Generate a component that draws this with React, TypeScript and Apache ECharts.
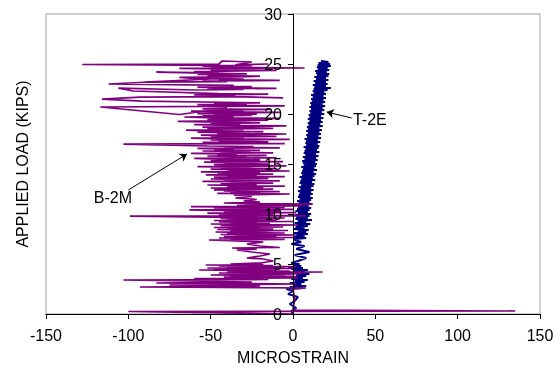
import React, { useEffect, useRef } from "react";
import * as echarts from "echarts";

// Strain gauge T-2E: [microstrain, applied load (kips)]
const t2eData: [number, number][] = [
  [0, 0], [-1, 0.3], [2, 0.6], [-2, 1.0], [1, 1.3], [3, 1.7], [-3, 2.0], [0, 2.3], [-4, 2.5],
  [6, 2.6], [-2, 2.7], [8, 2.8], [0, 2.9], [5, 3.0], [-2, 3.1], [7, 3.2], [1, 3.3], [9, 3.4],
  [-1, 3.5], [6, 3.6], [-3, 3.7], [8, 3.8], [2, 3.9], [10, 4.0], [-2, 4.1], [7, 4.2], [0, 4.3],
  [9, 4.4], [-1, 4.5], [6, 4.6], [-3, 4.7], [5, 4.8], [0, 4.9], [4, 5.0], [-1, 5.1],
  [3, 5.3], [8, 5.6], [1, 5.9], [10, 6.2], [2, 6.5], [7, 6.8], [-1, 7.0], [5, 7.2], [1, 7.4],
  [1, 7.5], [8, 7.6], [0, 7.7], [7, 7.8], [2, 7.9], [9, 8.0], [0.5, 8.1], [8, 8.2], [3, 8.3],
  [9.5, 8.4], [0, 8.5], [7, 8.6], [1.5, 8.7], [9, 8.8], [2, 8.9], [10.5, 9.0], [1, 9.1],
  [8, 9.2], [3, 9.3], [11.5, 9.4], [1.5, 9.5], [9, 9.6], [2, 9.7], [10, 9.8], [1, 9.9],
  [11, 10.0], [3, 10.1], [9, 10.2], [1.5, 10.3], [10, 10.4], [2.5, 10.5], [11, 10.6], [3, 10.7],
  [9.5, 10.8], [2, 10.9], [11.5, 11.0], [3.5, 11.1], [10, 11.2], [2.5, 11.3], [11, 11.4],
  [4, 11.5], [12, 11.6], [3, 11.7], [10.5, 11.8], [3.5, 11.9], [12, 12.0], [4, 12.1], [11, 12.2],
  [3, 12.3], [12.5, 12.4], [4.5, 12.5], [11, 12.6], [3.5, 12.7], [12.5, 12.8], [5, 12.9],
  [13, 13.0], [4, 13.1], [11.5, 13.2], [4.5, 13.3], [13.5, 13.4], [5, 13.5], [12, 13.6],
  [4, 13.7], [13, 13.8], [5.5, 13.9], [14, 14.0], [5, 14.1], [12.5, 14.2], [5.5, 14.3],
  [14.5, 14.4], [6, 14.5], [13, 14.6], [5, 14.7], [14, 14.8], [6.5, 14.9], [14.5, 15.0],
  [6, 15.1], [13.5, 15.2], [5.5, 15.3], [15, 15.4], [7, 15.5], [14, 15.6], [6, 15.7],
  [15.5, 15.8], [7.5, 15.9], [14, 16.0], [6.5, 16.1], [16, 16.2], [7, 16.3], [14.5, 16.4],
  [7.5, 16.5], [15.5, 16.6], [6.5, 16.7], [16, 16.8], [8, 16.9], [15, 17.0], [7.5, 17.1],
  [16.5, 17.2], [8, 17.3], [15, 17.4], [7, 17.5], [17, 17.6], [8.5, 17.7], [15.5, 17.8],
  [8, 17.9], [17, 18.0], [9, 18.1], [16, 18.2], [8, 18.3], [17.5, 18.4], [9, 18.5], [16, 18.6],
  [8.5, 18.7], [18, 18.8], [9.5, 18.9], [16.5, 19.0], [9, 19.1], [18, 19.2], [10, 19.3],
  [17, 19.4], [9, 19.5], [18.5, 19.6], [10, 19.7], [17, 19.8], [9.5, 19.9], [19, 20.0],
  [10.5, 20.1], [17.5, 20.2], [10, 20.3], [19, 20.4], [11, 20.5], [18, 20.6], [10, 20.7],
  [19.5, 20.8], [11, 20.9], [18, 21.0], [10.5, 21.1], [19.5, 21.2], [11.5, 21.3], [18.5, 21.4],
  [11, 21.5], [20, 21.6], [12, 21.7], [18.5, 21.8], [11, 21.9], [20, 22.0], [12.5, 22.1],
  [19, 22.2], [12, 22.3], [21, 22.4], [12.5, 22.5], [23, 22.6], [13, 22.7], [20, 22.8],
  [12, 22.9], [21, 23.0], [13.5, 23.1], [20, 23.2], [12.5, 23.3], [21.5, 23.4], [14, 23.5],
  [20, 23.6], [13, 23.7], [21.5, 23.8], [14.5, 23.9], [22, 24.0], [14, 24.1], [20.5, 24.2],
  [13.5, 24.3], [22, 24.4], [15, 24.5], [21, 24.6], [14.5, 24.7], [23, 24.8], [15, 24.9],
  [22.5, 25.0], [15.5, 25.1], [21.5, 25.2], [17, 25.3],
];

// Strain gauge B-2M: [microstrain, applied load (kips)]
const b2mData: [number, number][] = [
  [0, 0], [-100, 0.25], [135, 0.3], [0, 0.4], [1, 1.5], [0, 2.5], [8, 2.6], [-93, 2.7],
  [-20, 2.8], [-75, 2.9], [2, 3.0], [-83, 3.1], [-25, 3.2], [-103, 3.4], [-15, 3.45],
  [-60, 3.55], [3, 3.6],
  [-42, 3.7], [2, 3.75], [-38, 3.8], [-5, 3.85], [-50, 3.9], [0, 3.95], [-35, 4.0], [6, 4.05],
  [-45, 4.1], [18, 4.2], [-40, 4.25], [-2, 4.3], [-57, 4.4], [-10, 4.45], [-48, 4.5], [0, 4.55],
  [-52, 4.6], [-5, 4.65], [-40, 4.7], [2, 4.75], [-45, 4.8], [-12, 4.85], [-53, 4.9],
  [-18, 4.95], [-38, 5.0], [-20, 5.1],
  [-12, 5.3], [-18, 5.5], [-28, 5.6], [-20, 5.8], [-14, 6.0], [-25, 6.2], [-34, 6.4],
  [-22, 6.5], [-37, 6.6], [-8, 6.65], [-20, 6.8], [-28, 7.0], [-18, 7.2],
  [-51, 7.4], [-5, 7.45], [-38, 7.5], [-20, 7.55], [-45, 7.6], [0, 7.65], [-30, 7.7],
  [-42, 7.75], [-10, 7.8], [-35, 7.85], [2, 7.9], [-44, 7.95], [-22, 8.0], [-40, 8.05],
  [-5, 8.1], [-32, 8.15], [-47, 8.2], [-15, 8.25], [-38, 8.3], [-3, 8.35], [-28, 8.4],
  [-46, 8.45], [-12, 8.5], [-40, 8.55], [-25, 8.6], [-48, 8.65], [-6, 8.7], [-35, 8.75],
  [-18, 8.8], [-44, 8.85], [3, 8.9], [-30, 8.95], [-50, 9.0], [-14, 9.05], [-38, 9.1],
  [-22, 9.15], [-45, 9.2], [0, 9.25], [-33, 9.3], [-48, 9.35], [-10, 9.4], [-40, 9.45],
  [-26, 9.5], [-44, 9.55], [-5, 9.6], [-36, 9.65], [-99, 9.78], [8, 9.82], [-30, 9.88],
  [-45, 9.93], [-12, 9.98], [-38, 10.03], [-52, 10.08], [2, 10.13], [-28, 10.18], [-42, 10.23],
  [-8, 10.28], [-35, 10.33], [-63, 10.42], [0, 10.47], [-40, 10.52], [-20, 10.57], [-48, 10.62],
  [-5, 10.66], [-62, 10.74], [5, 10.8], [-34, 10.85], [-18, 10.9], [12, 10.98], [-30, 11.05],
  [-42, 11.1], [-20, 11.18],
  [-30, 11.3], [-22, 11.45], [-35, 11.6], [-25, 11.75], [-36, 11.9],
  [-2, 12.0], [-46, 12.06], [-20, 12.12], [-38, 12.18], [-8, 12.24], [-42, 12.3], [-28, 12.36],
  [-48, 12.42], [-12, 12.48], [-35, 12.54], [-50, 12.6], [-18, 12.66], [-40, 12.72], [-5, 12.78],
  [-30, 12.84], [-52, 12.9], [-22, 12.96], [-44, 13.02], [-12, 13.08], [-38, 13.14], [-25, 13.2],
  [-55, 13.26], [-8, 13.32], [-42, 13.38], [-30, 13.44], [-50, 13.5], [-15, 13.56], [-36, 13.62],
  [-48, 13.68], [-5, 13.74], [-40, 13.8], [-22, 13.86], [-53, 13.92], [-12, 13.98], [-34, 14.04],
  [-46, 14.1], [-20, 14.16], [-56, 14.22], [-2, 14.3], [-40, 14.36], [-28, 14.42], [-50, 14.48],
  [-10, 14.54], [-44, 14.6], [-25, 14.66], [-58, 14.74], [-4, 14.82], [-38, 14.88], [-48, 14.94],
  [-15, 15.0], [-42, 15.06], [-30, 15.12], [-54, 15.18], [-6, 15.24], [-36, 15.3], [-50, 15.36],
  [-20, 15.42], [-45, 15.48], [-60, 15.56], [-10, 15.62], [-40, 15.68], [-28, 15.74], [-52, 15.8],
  [-16, 15.86], [-46, 15.92], [-34, 15.98], [-62, 16.06], [-12, 16.12], [-44, 16.18],
  [-26, 16.24], [-55, 16.3], [-20, 16.36], [-48, 16.42], [-36, 16.48], [-58, 16.56], [-8, 16.62],
  [-42, 16.68], [-24, 16.74], [-52, 16.8], [-103, 16.98], [-5, 17.04], [-40, 17.1], [-55, 17.16],
  [-15, 17.22], [-45, 17.28], [-30, 17.34], [-50, 17.4],
  [-2, 17.46], [-44, 17.52], [-62, 17.58], [-30, 17.64], [-50, 17.7], [-10, 17.76], [-40, 17.82],
  [-56, 17.88], [-25, 17.94], [-4, 18.0], [-46, 18.06], [-35, 18.12], [-58, 18.18], [-18, 18.24],
  [-48, 18.3], [-65, 18.38], [-30, 18.44], [-52, 18.5], [-12, 18.56], [-42, 18.62], [-55, 18.68],
  [-28, 18.74], [-4, 18.82], [-45, 18.88], [-60, 18.94], [-32, 19.0], [-50, 19.06], [-20, 19.12],
  [-44, 19.18], [-70, 19.26], [-38, 19.32], [-15, 19.38], [-52, 19.44], [-34, 19.5], [-8, 19.56],
  [-48, 19.62], [-66, 19.7], [-36, 19.76], [-55, 19.82], [-25, 19.86], [-48, 19.92],
  [-22, 19.98], [-58, 20.04], [-36, 20.1], [-8, 20.16], [-50, 20.22], [-62, 20.28], [-30, 20.34],
  [-45, 20.4], [-14, 20.46], [-55, 20.52], [-40, 20.58], [-69, 19.95], [-117, 20.7],
  [-50, 20.76], [-5, 20.82], [-42, 20.88], [-58, 20.94], [-28, 21.0], [-48, 21.06], [-20, 21.12],
  [-92, 21.28], [-116, 21.48], [-93, 21.68], [-40, 21.74], [-6, 21.62], [-50, 21.8], [-35, 21.86],
  [-60, 21.92], [-15, 21.98], [-45, 22.04], [-97, 22.3], [-106, 22.58], [-60, 22.4], [-30, 22.46],
  [-52, 22.52], [-10, 22.56], [-42, 22.62], [-58, 22.68], [-25, 22.74], [-48, 22.8], [-36, 22.86],
  [-112, 23.0], [-50, 23.5], [-90, 23.18], [-40, 23.24], [-55, 23.3], [-8, 23.36], [-45, 23.42],
  [-30, 23.48], [-60, 23.56], [-69, 23.66], [-35, 23.72], [-20, 23.78], [-52, 23.84],
  [-40, 23.9], [-58, 23.96], [-28, 24.02], [-83, 24.18], [-45, 24.12], [-60, 24.24],
  [-32, 24.3], [-10, 24.36], [-50, 24.42], [-38, 24.48], [-69, 24.56], [7, 24.6], [-50, 24.66],
  [-30, 24.72], [-55, 24.78], [-25, 24.84], [-128, 24.95], [-45, 25.0], [-43, 25.3],
  [-25, 25.2], [-35, 24.92], [-15, 25.0],
];

// Annotation callouts: label anchor, arrow tail, arrow tip (data coordinates)
const calloutTexts = ["T-2E", "B-2M"];
const calloutLabelAt: [number, number][] = [[36.4, 19.5], [-121, 11.7]];
const calloutTail: [number, number][] = [[35.6, 19.6], [-100, 12.4]];
const calloutTip: [number, number][] = [[20.5, 20.2], [-64.4, 16.0]];

const X_MIN = -150, X_MAX = 150, X_STEP = 50;
const Y_MIN = 0, Y_MAX = 30, Y_STEP = 5;

const FONT = "'Liberation Sans', Arial, sans-serif";

const GRID_LEFT = 46, GRID_RIGHT = 19;
const CHART_W = 559;

export default function App() {
  const ref = useRef<HTMLDivElement>(null);
  useEffect(() => {
    if (!ref.current) return;
    const chart = echarts.init(ref.current, undefined, { renderer: "svg" });
    const plotW = CHART_W - GRID_LEFT - GRID_RIGHT;
    const zeroOffset = -plotW * ((0 - X_MIN) / (X_MAX - X_MIN));
    chart.setOption({
      animation: false,
      textStyle: { fontFamily: FONT },
      grid: {
        left: GRID_LEFT, right: GRID_RIGHT, top: 14, bottom: 57,
        show: true, borderColor: "#a0a0a0", borderWidth: 1, backgroundColor: "transparent",
      },
      xAxis: {
        type: "value", min: X_MIN, max: X_MAX, interval: X_STEP, z: 10,
        axisLine: { show: true, onZero: false, lineStyle: { color: "#000", width: 1 } },
        axisTick: { show: true, length: 5, lineStyle: { color: "#000" } },
        axisLabel: { color: "#000", fontSize: 16, margin: 13, fontFamily: FONT },
        splitLine: { show: false },
        name: "MICROSTRAIN", nameLocation: "middle", nameGap: 35,
        nameTextStyle: { color: "#000", fontSize: 16, fontFamily: FONT },
      },
      yAxis: {
        type: "value", min: Y_MIN, max: Y_MAX, interval: Y_STEP, z: 10,
        position: "left", offset: zeroOffset,
        axisLine: { show: true, onZero: false, lineStyle: { color: "#000", width: 1 } },
        axisTick: { show: true, length: 5, lineStyle: { color: "#000" } },
        axisLabel: { color: "#000", fontSize: 16, margin: 11, fontFamily: FONT },
        splitLine: { show: false },
      },
      graphic: [
        {
          type: "text", x: 22, y: 164, rotation: Math.PI / 2,
          style: {
            text: "APPLIED LOAD (KIPS)", fill: "#000", font: `16px ${FONT}`,
            textAlign: "center", textVerticalAlign: "middle",
          },
        },
      ],
      series: [
        {
          name: "T-2E", type: "line", data: t2eData, showSymbol: false, symbol: "none",
          lineStyle: { color: "#000080", width: 2 }, itemStyle: { color: "#000080" },
          silent: true, z: 2,
        },
        {
          name: "B-2M", type: "line", data: b2mData, showSymbol: false, symbol: "none",
          lineStyle: { color: "#800080", width: 1.7 }, itemStyle: { color: "#800080" },
          silent: true, z: 3,
        },
        {
          name: "callouts", type: "scatter", symbolSize: 0, silent: true, z: 5,
          data: calloutLabelAt.map((p, i) => ({ value: p, name: calloutTexts[i] })),
          label: {
            show: true, position: "right", distance: 0, formatter: "{b}",
            color: "#000", opacity: 1, fontSize: 16, fontFamily: FONT,
          },
          markLine: {
            silent: true, symbol: ["none", "arrow"], symbolSize: 7,
            label: { show: false },
            lineStyle: { color: "#000", width: 1, type: "solid" },
            data: calloutTail.map((t, i) => [{ coord: t }, { coord: calloutTip[i] }]),
          },
        },
      ],
    });
    return () => chart.dispose();
  }, []);
  return (
    <div
      ref={ref}
      style={{ position: "fixed", left: 0, top: 0, width: CHART_W, height: 371 }}
    />
  );
}
